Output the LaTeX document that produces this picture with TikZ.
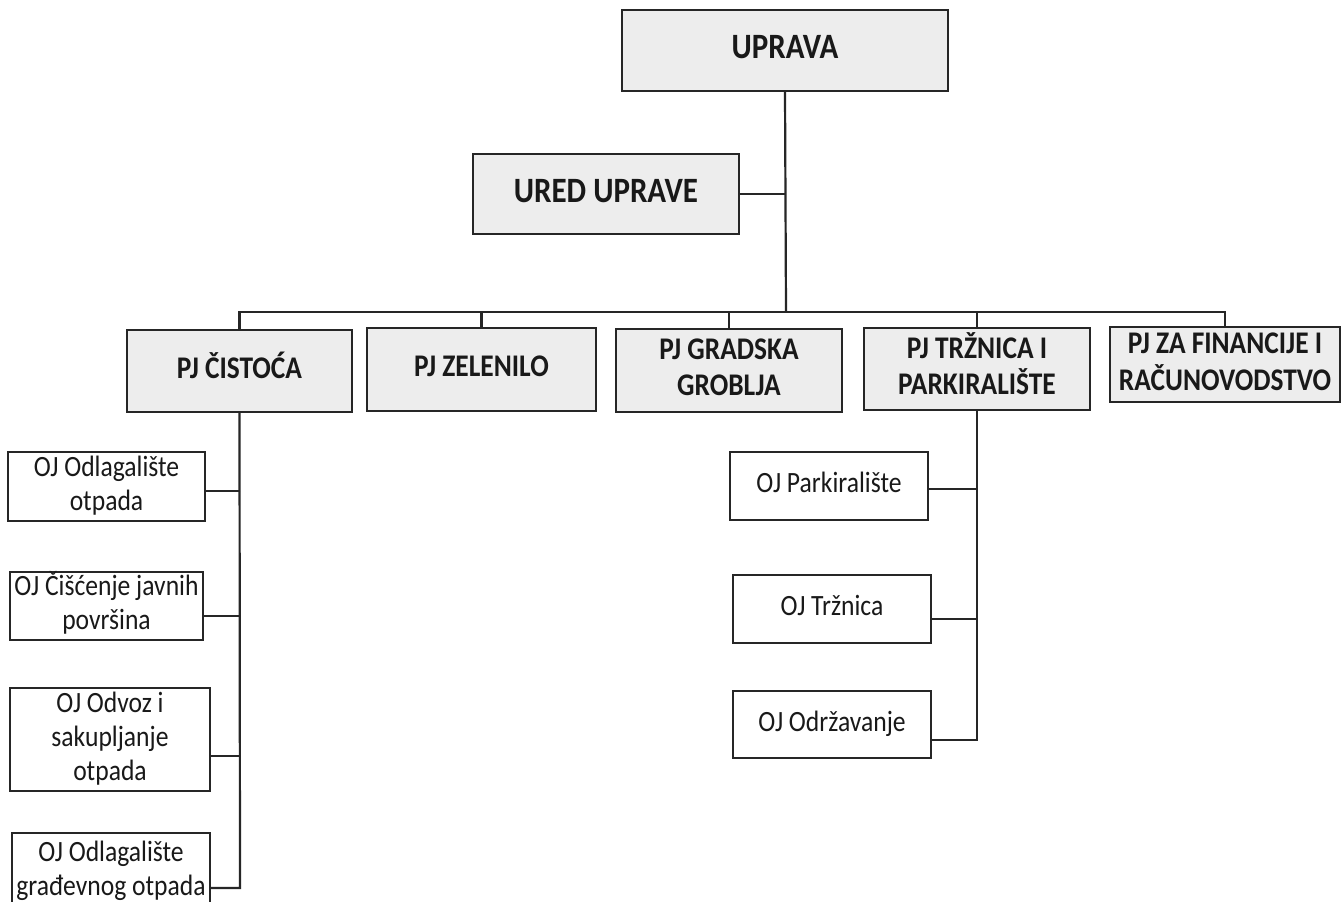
\documentclass[tikz,border=0pt]{standalone}
\usepackage{fontspec}
\usepackage{graphicx}
\setmainfont{Carlito}
\newcommand{\vs}[1]{\scalebox{1}[1.15]{\begin{tabular}{@{}c@{}}#1\end{tabular}}}
\tikzset{
  bx/.style={draw=black!85, line width=1pt, inner sep=0pt, text=black!90},
  pjbox/.style={bx, fill=black!7, font=\bfseries\fontsize{13.7}{15.6}\selectfont},
  topbox/.style={bx, fill=black!7, font=\bfseries\fontsize{15.5}{18}\selectfont},
  ojbox/.style={bx, fill=white, font=\fontsize{12.8}{14.8}\selectfont},
  conn/.style={draw=black!85, line width=1.1pt}
}
\begin{document}
\begin{tikzpicture}[x=0.5pt,y=-0.5pt]
\clip (0,0) rectangle (1344,901);
\fill[white] (0,0) rectangle (1344,901);
% top
\node[topbox, minimum width=163pt, minimum height=40.5pt] (upr) at (785,50.5) {\vs{UPRAVA}};
\node[topbox, minimum width=133pt, minimum height=40pt] (ured) at (606,194) {\vs{URED UPRAVE}};
% PJ
\node[pjbox, minimum width=112.5pt, minimum height=41pt] (cist) at (239.5,371) {\vs{PJ ČISTOĆA}};
\node[pjbox, minimum width=114.5pt, minimum height=41.5pt] (zel) at (481.5,369.5) {\vs{PJ ZELENILO}};
\node[pjbox, minimum width=113pt, minimum height=41.5pt] (grad) at (729,370.5) {\vs{PJ GRADSKA\\GROBLJA}};
\node[pjbox, minimum width=113pt, minimum height=41pt] (trz) at (977,369) {\vs{PJ TRŽNICA I\\PARKIRALIŠTE}};
\node[pjbox, minimum width=115pt, minimum height=37.5pt] (fin) at (1225,364.5) {\vs{PJ ZA FINANCIJE I\\RAČUNOVODSTVO}};
% OJ left
\node[ojbox, minimum width=98.5pt, minimum height=34.5pt] (oja) at (106.5,486.5) {\vs{OJ Odlagalište\\otpada}};
\node[ojbox, minimum width=96.5pt, minimum height=34pt] (ojb) at (106.5,606) {\vs{OJ Čišćenje javnih\\površina}};
\node[ojbox, minimum width=100pt, minimum height=46.5pt] (ojc) at (110,739.5) {\vs{OJ Odvoz i\\sakupljanje\\otpada}};
\node[ojbox, minimum width=99pt, minimum height=38.5pt] (ojd) at (111,871.5) {\vs{OJ Odlagalište\\građevnog otpada}};
% OJ right
\node[ojbox, minimum width=99pt, minimum height=34pt] (ojp) at (829,486) {\vs{OJ Parkiralište}};
\node[ojbox, minimum width=99pt, minimum height=34pt] (ojt) at (832,609) {\vs{OJ Tržnica}};
\node[ojbox, minimum width=99pt, minimum height=33.5pt] (ojo) at (832,724.5) {\vs{OJ Održavanje}};
% connectors
\coordinate (bus) at (786,312);
\draw[conn] (upr.south) -- (bus);
\draw[conn] (ured.east) -- (ured.east -| upr.south);
\draw[conn] (cist.north) |- (bus);
\draw[conn] (zel.north) |- (bus);
\draw[conn] (grad.north) |- (bus);
\draw[conn] (trz.north) |- (bus);
\draw[conn] (fin.north) |- (bus);
% left column
\coordinate (la) at (240,491);
\coordinate (lb) at (240,616);
\coordinate (lc) at (240,756);
\coordinate (ld) at (240,888);
\draw[conn] (cist.south) -- (ld) -- (ld -| ojd.east);
\draw[conn] (la) -- (la -| oja.east);
\draw[conn] (lb) -- (lb -| ojb.east);
\draw[conn] (lc) -- (lc -| ojc.east);
% right column
\coordinate (ra) at (977,489);
\coordinate (rb) at (977,619);
\coordinate (rc) at (977,740);
\draw[conn] (trz.south) -- (rc) -- (rc -| ojo.east);
\draw[conn] (ra) -- (ra -| ojp.east);
\draw[conn] (rb) -- (rb -| ojt.east);
\end{tikzpicture}
\end{document}
